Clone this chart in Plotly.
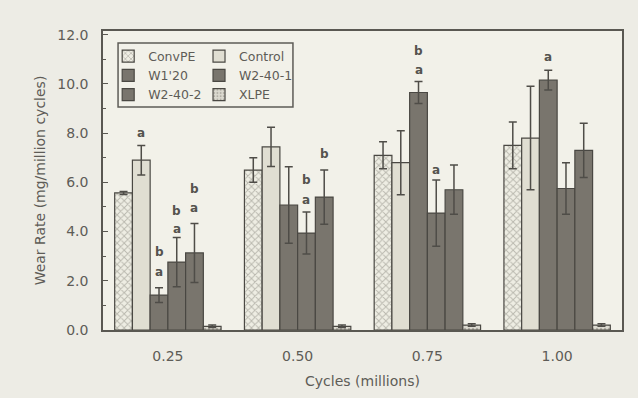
import plotly.graph_objects as go

categories = ["0.25", "0.50", "0.75", "1.00"]
series_names = ["ConvPE", "Control", "W1'20", "W2-40-1", "W2-40-2", "XLPE"]

convpe = [5.57, 6.5, 7.1, 7.5]
convpe_err = [0.06, 0.5, 0.55, 0.95]
control = [6.9, 7.44, 6.8, 7.8]
control_err = [0.6, 0.8, 1.3, 2.1]
w1_20 = [1.42, 5.08, 9.65, 10.15]
w1_20_err = [0.3, 1.55, 0.45, 0.4]
w2_40_1 = [2.76, 3.94, 4.75, 5.75]
w2_40_1_err = [1.0, 0.85, 1.35, 1.05]
w2_40_2 = [3.13, 5.4, 5.7, 7.3]
w2_40_2_err = [1.2, 1.1, 1.0, 1.1]
xlpe = [0.15, 0.15, 0.2, 0.2]
xlpe_err = [0.05, 0.05, 0.05, 0.05]

# significance letters: category index, series index, y value, text
L_cat = [0, 0, 0, 0, 0, 0, 0, 1, 1, 1, 2, 2, 2, 3]
L_ser = [1, 2, 2, 3, 3, 4, 4, 3, 3, 4, 2, 2, 3, 2]
L_y = [8.0, 2.35, 3.15, 4.1, 4.85, 4.95, 5.75, 5.3, 6.1, 7.15, 10.55, 11.35, 6.5, 11.1]
L_txt = ["a", "a", "b", "a", "b", "a", "b", "a", "b", "b", "a", "b", "a", "a"]

values = [convpe, control, w1_20, w2_40_1, w2_40_2, xlpe]
errors = [convpe_err, control_err, w1_20_err, w2_40_1_err, w2_40_2_err, xlpe_err]

dark = "#79756d"
outline = "#4a4843"
styles = [
    dict(color="#eeede3", pattern=dict(shape="x", fgcolor="#85827a", bgcolor="#eeede3", size=5, solidity=0.35)),
    dict(color="#e0ded2"),
    dict(color=dark),
    dict(color=dark),
    dict(color=dark),
    dict(color="#dcdad0", pattern=dict(shape=".", fgcolor="#85827a", bgcolor="#dcdad0", size=4, solidity=0.3)),
]
legend_of = ["legend", "legend2", "legend", "legend2", "legend", "legend2"]

fig = go.Figure()
for i, name in enumerate(series_names):
    m = dict(styles[i])
    m["line"] = dict(color=outline, width=1.2)
    fig.add_trace(go.Bar(
        name=name, x=categories, y=values[i],
        marker=m,
        error_y=dict(type="data", array=errors[i], color="#4f4d48", thickness=1.5, width=4),
        legend=legend_of[i],
    ))

bargap = 0.18
w = (1 - bargap) / 6
for c, s, y, t in zip(L_cat, L_ser, L_y, L_txt):
    fig.add_annotation(x=c + (s - 2.5) * w, y=y, text="<b>" + t + "</b>", showarrow=False,
                       font=dict(family="DejaVu Sans", size=12, color="#55534e"),
                       xref="x", yref="y")

font_main = dict(family="DejaVu Sans", size=14, color="#5e5c57")
font_leg = dict(family="DejaVu Sans", size=12.5, color="#5e5c57")

fig.update_layout(
    width=638, height=398,
    margin=dict(l=103, r=16, t=31, b=68),
    paper_bgcolor="#edece5",
    plot_bgcolor="#f2f1e9",
    barmode="group", bargap=bargap, bargroupgap=0,
    font=font_main,
    legend=dict(x=0.01, y=0.965, xanchor="left", yanchor="top", bgcolor="rgba(0,0,0,0)",
                font=font_leg, tracegroupgap=0, itemwidth=30),
    legend2=dict(x=0.185, y=0.965, xanchor="left", yanchor="top", bgcolor="rgba(0,0,0,0)",
                 font=font_leg, tracegroupgap=0, itemwidth=30),
    showlegend=True,
)
fig.add_shape(type="rect", xref="paper", yref="paper", x0=0.029, x1=0.366, y0=0.746, y1=0.96,
              line=dict(color="#5e5c57", width=1.5))

fig.update_xaxes(
    type="category", showline=True, mirror=True, linecolor="#5a5852", linewidth=1.5,
    ticks="", showgrid=False, tickfont=font_main, ticklabelstandoff=12,
    title=dict(text="Cycles (millions)", font=font_main, standoff=14),
)
fig.update_yaxes(
    range=[0, 12.15], dtick=2, tickformat=".1f", showline=True, mirror=True,
    linecolor="#5a5852", linewidth=1.5, ticks="inside", ticklen=5, tickcolor="#5a5852",
    minor=dict(dtick=1, ticks="inside", ticklen=3, tickcolor="#5a5852"),
    showgrid=False, zeroline=False, tickfont=font_main, ticklabelstandoff=10,
    title=dict(text="Wear Rate (mg/million cycles)", font=font_main, standoff=8),
)

fig.write_html("out.html")
